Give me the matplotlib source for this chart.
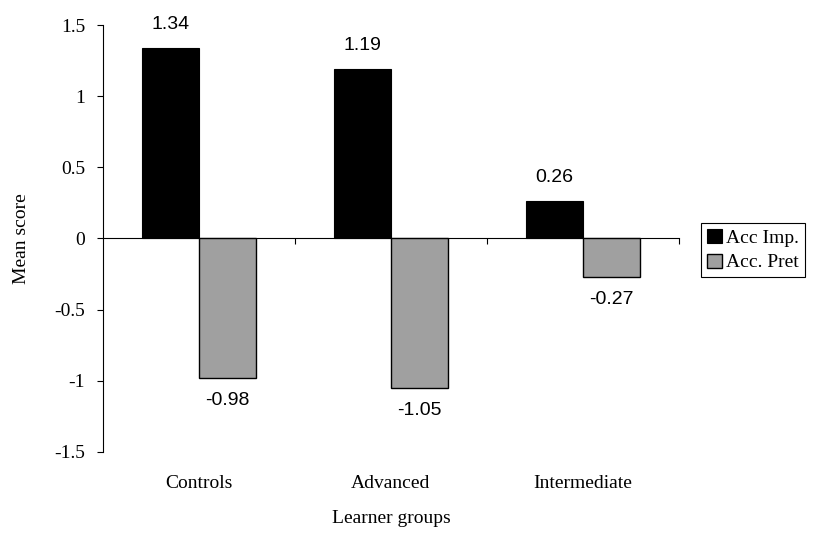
import numpy as np
import matplotlib.pyplot as plt

# Mean scores per learner group
groups = ["Controls", "Advanced", "Intermediate"]
acc_imp = [1.34, 1.19, 0.26]
acc_pret = [-0.98, -1.05, -0.27]
series_names = ["Acc Imp.", "Acc. Pret"]

SERIF = "Liberation Serif"
SANS = "Liberation Sans"
FS = 14

fig = plt.figure(figsize=(8.22, 5.38), dpi=100)
ax = fig.add_axes([0.1253, 0.160, 0.7007, 0.7935])

x = np.arange(len(groups)) + 0.5
w = 0.297

b1 = ax.bar(x - w, acc_imp, width=w, align="edge", color="black",
            edgecolor="black", linewidth=0.8, label=series_names[0], zorder=3)
b2 = ax.bar(x, acc_pret, width=w, align="edge", color="#a0a0a0",
            edgecolor="black", linewidth=1.0, label=series_names[1], zorder=3)

# value labels above / below each bar
for bars, vals in ((b1, acc_imp), (b2, acc_pret)):
    for rect, v in zip(bars, vals):
        cx = rect.get_x() + rect.get_width() / 2
        if v >= 0:
            ax.annotate(f"{v:.2f}", (cx, v), xytext=(0, 11),
                        textcoords="offset points", ha="center", va="bottom",
                        fontsize=FS, family=SANS)
        else:
            ax.annotate(f"{v:.2f}", (cx, v), xytext=(0, -10),
                        textcoords="offset points", ha="center", va="top",
                        fontsize=FS, family=SANS)

ax.set_xlim(0, 3)
ax.set_ylim(-1.5, 1.5)
ax.set_yticks([-1.5, -1, -0.5, 0, 0.5, 1, 1.5])
ax.set_yticklabels(["-1.5", "-1", "-0.5", "0", "0.5", "1", "1.5"],
                   family=SERIF, fontsize=FS)
ax.tick_params(axis="y", direction="out", length=4.3, width=0.8, pad=8.5)

# category axis sits on zero, ticks at group boundaries
ax.spines["bottom"].set_position(("data", 0))
ax.spines["bottom"].set_linewidth(0.8)
ax.spines["left"].set_linewidth(0.8)
ax.spines["top"].set_visible(False)
ax.spines["right"].set_visible(False)
ax.set_xticks([1, 2, 3])
ax.set_xticklabels([])
ax.tick_params(axis="x", direction="out", length=4.3, width=0.8)

for xi, g in zip(x, groups):
    ax.text(xi, -0.075, g, transform=ax.get_xaxis_transform(),
            ha="center", va="center", family=SERIF, fontsize=FS)

ax.text(0.5, -0.155, "Learner groups", transform=ax.transAxes,
        ha="center", va="center", family=SERIF, fontsize=FS)
fig.text(0.026, 0.557, "Mean score", rotation=90, ha="center", va="center",
         family=SERIF, fontsize=FS)

leg = fig.legend(handles=[b1, b2], labels=series_names,
                 loc="center left", bbox_to_anchor=(0.853, 0.535),
                 prop={"family": SERIF, "size": FS}, frameon=True,
                 fancybox=False, edgecolor="black", framealpha=1,
                 handlelength=0.75, handleheight=0.75, handletextpad=0.25,
                 borderpad=0.3, labelspacing=0.35, borderaxespad=0)
leg.get_frame().set_linewidth(0.8)

fig.savefig("out.png", dpi=100)
